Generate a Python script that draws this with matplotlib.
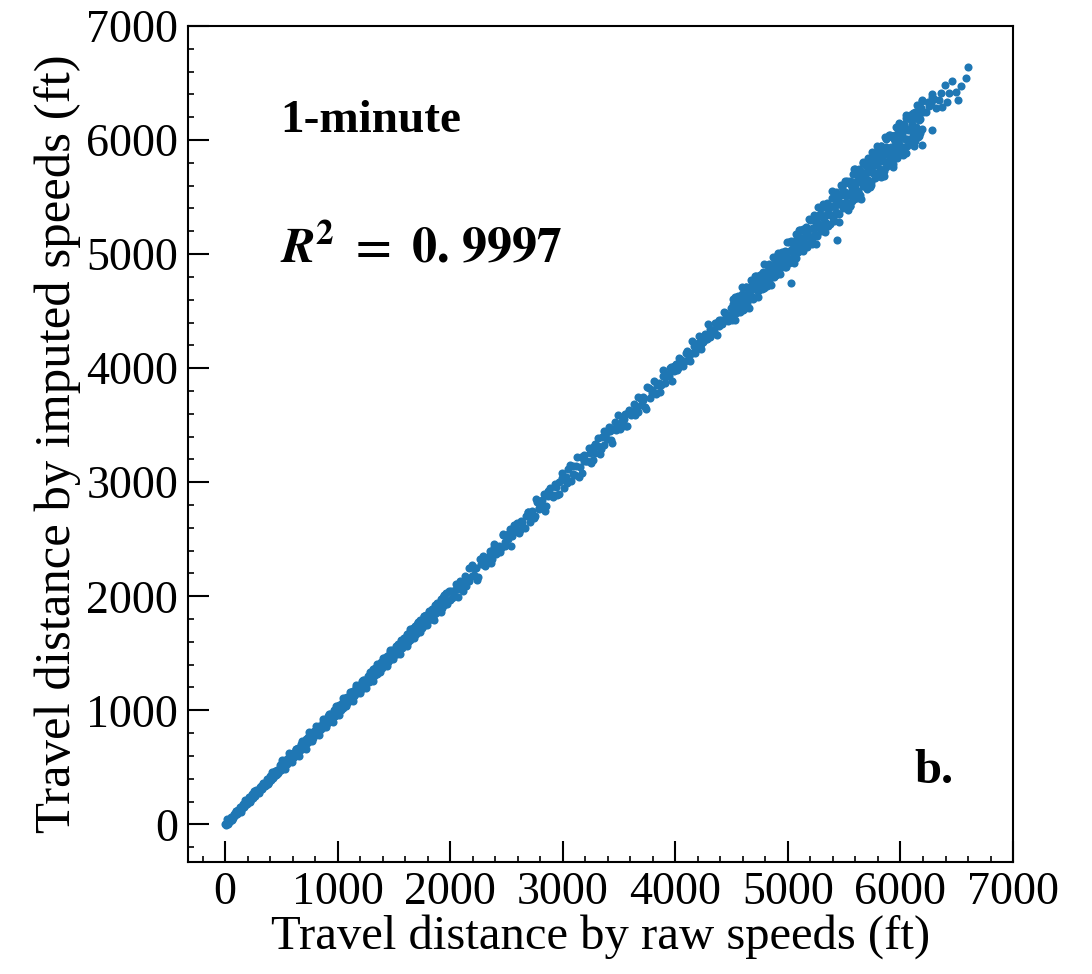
import matplotlib
matplotlib.use('Agg')
import matplotlib.pyplot as plt
from matplotlib.ticker import MultipleLocator
import numpy as np

plt.rcParams['font.family'] = ['Liberation Serif', 'DejaVu Serif']
plt.rcParams['mathtext.fontset'] = 'stix'

# ----- valores (ft) -----
# trecho inicial, faixa estreita
raw_low = [0, 8, 15, 22, 30, 38, 45, 52, 60, 68, 75, 82, 90, 100, 108, 115, 125, 135, 142, 150,
           160, 168, 178, 185, 195, 205, 212, 222, 230, 240, 250, 258, 265, 275, 285, 295, 305, 312, 322, 330,
           340, 350, 360, 368, 378, 388, 395, 405, 415, 425, 432, 442, 452, 460, 470, 480, 490, 498, 508, 518,
           526, 535, 545, 555, 562, 572, 580, 590, 600, 610, 620, 628, 638, 648, 656, 665, 675, 685, 695, 702,
           712, 722, 730, 740, 750, 760, 770, 778, 788, 798, 808, 818, 826, 836, 846, 855, 865, 875, 885, 895,
           905, 915, 925, 935, 945, 955, 965, 975, 985, 995, 1005, 1015, 1025, 1035, 1045, 1055, 1065, 1075, 1085, 1095,
           1105, 1115, 1125, 1135, 1145, 1155, 1165, 1175, 1185, 1195, 1205, 1215, 1225, 1235, 1245, 1255, 1265, 1275, 1285, 1295,
           1305, 1315, 1325, 1335, 1345, 1355, 1365, 1375, 1385, 1395, 1405, 1415, 1425, 1435, 1445, 1455, 1465, 1475, 1485, 1495,
           1505, 1515, 1525, 1535, 1545, 1555, 1565, 1575, 1585, 1595, 1605, 1615, 1625, 1635, 1645, 1655, 1665, 1675, 1685, 1695,
           1705, 1715, 1725, 1735, 1745, 1755, 1765, 1775, 1785, 1795, 1805, 1815, 1825, 1835, 1845, 1855, 1865, 1875, 1885, 1895,
           1905, 1915, 1925, 1935, 1945, 1955, 1965, 1975, 1985, 1995,
           20, 60, 100, 140, 180, 220, 260, 300, 340, 380, 420, 460, 500,
           505, 535, 565, 595, 625, 655, 685, 715, 745, 775, 805, 835, 865, 895, 925, 955, 985, 1015, 1045, 1075,
           1105, 1135, 1165, 1195, 1225, 1255, 1285, 1315, 1345, 1375, 1405, 1435, 1465, 1495, 1525, 1555, 1585, 1615, 1645, 1675,
           1705, 1735, 1765, 1795, 1825, 1855, 1885, 1915, 1945, 1975]
imp_low = [5, -6, 20, 4, 38, 22, 30, 62, 48, 55, 90, 70, 78, 118, 95, 130, 112, 150, 128, 140,
           182, 150, 170, 205, 180, 198, 236, 205, 220, 262, 235, 270, 248, 300, 272, 282, 330, 298, 340, 312,
           358, 332, 348, 395, 362, 370, 420, 388, 440, 405, 425, 470, 435, 478, 452, 465, 520, 478, 530, 500,
           512, 565, 528, 580, 548, 560, 612, 570, 625, 590, 605, 660, 615, 672, 640, 655, 708, 662, 720, 685,
           700, 752, 710, 768, 735, 742, 805, 758, 815, 780, 795, 850, 805, 862, 825, 840, 900, 850, 912, 872,
           890, 950, 900, 965, 925, 940, 1005, 950, 1015, 975, 990, 1050, 1000, 1068, 1022, 1040, 1110, 1050, 1118, 1072,
           1090, 1160, 1098, 1170, 1122, 1140, 1205, 1150, 1222, 1168, 1190, 1260, 1195, 1270, 1220, 1238, 1305, 1248, 1322, 1265,
           1290, 1360, 1300, 1372, 1318, 1340, 1410, 1350, 1425, 1372, 1395, 1462, 1400, 1478, 1420, 1442, 1515, 1448, 1530, 1468,
           1490, 1565, 1498, 1580, 1518, 1545, 1620, 1548, 1635, 1570, 1592, 1668, 1600, 1680, 1620, 1645, 1720, 1650, 1735, 1670,
           1690, 1772, 1700, 1790, 1718, 1745, 1830, 1748, 1838, 1770, 1795, 1875, 1800, 1888, 1820, 1848, 1925, 1850, 1940, 1872,
           1898, 1978, 1900, 1992, 1925, 1950, 2030, 1955, 2045, 1970,
           50, 35, 120, 110, 215, 200, 290, 275, 360, 350, 455, 440, 530,
           560, 485, 625, 550, 665, 595, 735, 660, 810, 735, 860, 785, 925, 850, 965, 895, 1035, 960, 1110, 1035,
           1160, 1085, 1225, 1150, 1265, 1195, 1335, 1260, 1410, 1335, 1460, 1385, 1525, 1450, 1565, 1495, 1635, 1560, 1710, 1635,
           1760, 1685, 1825, 1750, 1865, 1795, 1935, 1860, 2010, 1935]

# trecho do meio, mais espalhado
raw_mid = [2010, 2030, 2050, 2070, 2090, 2110, 2130, 2150, 2170, 2190, 2210, 2230, 2250, 2270, 2290, 2310, 2330, 2350, 2370, 2390,
           2410, 2430, 2450, 2470, 2490, 2510, 2530, 2550, 2570, 2590, 2610, 2630, 2650, 2670, 2690, 2710, 2730, 2750, 2770, 2790,
           2810, 2830, 2850, 2870, 2890, 2910, 2930, 2950, 2970, 2990, 3010, 3030, 3050, 3070, 3090, 3110, 3130, 3150, 3170, 3190,
           3210, 3230, 3250, 3270, 3290, 3310, 3330, 3350, 3370, 3390, 3410, 3430, 3450, 3470, 3490, 3510, 3530, 3550, 3570, 3590,
           3610, 3630, 3650, 3670, 3690, 3710, 3730, 3750, 3770, 3790, 3810, 3830, 3850, 3870, 3890, 3910, 3930, 3950, 3970, 3990,
           4010, 4030, 4050, 4070, 4090, 4110, 4130, 4150, 4170, 4190, 4210, 4230, 4250, 4270, 4290, 4310, 4330, 4350, 4370, 4390,
           4410, 4430, 4450, 4470, 4490,
           3905, 3925, 3945, 3965, 3985, 4005, 4025, 4045, 4065, 4085, 4105, 4125, 4145, 4165, 4185, 4205, 4225, 4245, 4265, 4285,
           4305, 4325, 4345, 4365, 4385, 4405, 4425, 4445, 4465, 4485,
           2015, 2040, 2065, 2090, 2115, 2140, 2165, 2190, 2215, 2240, 2265, 2290, 2315, 2340, 2365, 2390, 2415, 2440, 2465, 2490,
           2515, 2540, 2565, 2590, 2615, 2640, 2665, 2690, 2715, 2740, 2765, 2790, 2815, 2840, 2865, 2890, 2915, 2940, 2965, 2990,
           3015, 3040, 3065, 3090, 3115, 3140, 3165, 3190, 3215, 3240, 3265, 3290, 3315, 3340, 3365, 3390, 3415, 3440, 3465, 3490,
           3515, 3540, 3565, 3590, 3615, 3640, 3665, 3690, 3715, 3740, 3765, 3790, 3815, 3840, 3865, 3890]
imp_mid = [2050, 2000, 2110, 2060, 2085, 2050, 2175, 2140, 2130, 2270, 2185, 2250, 2170, 2280, 2350, 2265, 2335, 2395, 2330, 2460,
           2370, 2440, 2420, 2535, 2445, 2505, 2590, 2525, 2560, 2640, 2555, 2660, 2610, 2705, 2740, 2650, 2745, 2700, 2830, 2765,
           2800, 2900, 2790, 2880, 2950, 2870, 2985, 2890, 3000, 3085, 2950, 3050, 3120, 3010, 3140, 3060, 3225, 3130, 3080, 3240,
           3190, 3300, 3170, 3310, 3260, 3385, 3250, 3400, 3330, 3440, 3485, 3370, 3470, 3455, 3585, 3470, 3535, 3600, 3490, 3620,
           3585, 3690, 3645, 3615, 3730, 3720, 3660, 3835, 3735, 3805, 3885, 3770, 3870, 3855, 3985, 3870, 3935, 4000, 3890, 4020,
           3985, 4090, 4045, 4015, 4130, 4120, 4060, 4235, 4135, 4205, 4285, 4170, 4270, 4255, 4385, 4270, 4335, 4400, 4290, 4420,
           4385, 4490, 4445, 4415, 4530,
           3920, 3950, 3930, 4010, 3975, 4040, 4005, 4080, 4060, 4060, 4150, 4110, 4130, 4195, 4170, 4220, 4210, 4230, 4300, 4260,
           4340, 4310, 4330, 4400, 4370, 4420, 4410, 4480, 4450, 4470,
           1985, 2055, 1995, 2135, 2115, 2090, 2250, 2175, 2245, 2145, 2325, 2285, 2285, 2355, 2295, 2435, 2415, 2390, 2550, 2475,
           2545, 2445, 2625, 2585, 2585, 2655, 2595, 2735, 2715, 2690, 2850, 2775, 2845, 2745, 2925, 2885, 2885, 2955, 2895, 3035,
           3015, 2990, 3150, 3075, 3145, 3045, 3225, 3185, 3185, 3255, 3195, 3335, 3315, 3290, 3450, 3375, 3445, 3345, 3525, 3485,
           3485, 3555, 3495, 3635, 3615, 3590, 3750, 3675, 3745, 3645, 3825, 3785, 3785, 3855, 3795, 3935]

# trecho superior, faixa larga e densa
raw_high = [4500, 4510, 4520, 4530, 4540, 4550, 4560, 4570, 4580, 4590, 4600, 4610, 4620, 4630, 4640, 4650, 4660, 4670, 4680, 4690,
            4700, 4710, 4720, 4730, 4740, 4750, 4760, 4770, 4780, 4790, 4800, 4810, 4820, 4830, 4840, 4850, 4860, 4870, 4880, 4890,
            4900, 4910, 4920, 4930, 4940, 4950, 4960, 4970, 4980, 4990, 5000, 5010, 5020, 5030, 5040, 5050, 5060, 5070, 5080, 5090,
            5100, 5110, 5120, 5130, 5140, 5150, 5160, 5170, 5180, 5190, 5200, 5210, 5220, 5230, 5240, 5250, 5260, 5270, 5280, 5290,
            5300, 5310, 5320, 5330, 5340, 5350, 5360, 5370, 5380, 5390, 5400, 5410, 5420, 5430, 5440, 5450, 5460, 5470, 5480, 5490,
            5500, 5510, 5520, 5530, 5540, 5550, 5560, 5570, 5580, 5590, 5600, 5610, 5620, 5630, 5640, 5650, 5660, 5670, 5680, 5690,
            5700, 5710, 5720, 5730, 5740, 5750, 5760, 5770, 5780, 5790, 5800, 5810, 5820, 5830, 5840, 5850, 5860, 5870, 5880, 5890,
            5900, 5910, 5920, 5930, 5940, 5950, 5960, 5970, 5980, 5990, 6000, 6010, 6020, 6030, 6040, 6050, 6060, 6070, 6080, 6090,
            6100, 6110, 6120, 6130, 6140, 6150, 6160, 6170, 6180, 6190, 6200]
imp_high = [4420, 4560, 4505, 4620, 4485, 4565, 4630, 4530, 4580, 4650, 4510, 4640, 4590, 4710, 4575, 4660, 4710, 4620, 4705, 4610,
            4750, 4695, 4810, 4675, 4755, 4820, 4720, 4770, 4840, 4700, 4830, 4780, 4900, 4765, 4850, 4900, 4810, 4895, 4800, 4940,
            4885, 5000, 4865, 4945, 5010, 4910, 4960, 5030, 4890, 5020, 4965, 5110, 4940, 5040, 5105, 4990, 5090, 4970, 5140, 5070,
            5210, 5040, 5140, 5220, 5090, 5150, 5235, 5060, 5220, 5155, 5300, 5130, 5230, 5295, 5180, 5280, 5160, 5330, 5260, 5400,
            5230, 5330, 5410, 5280, 5340, 5425, 5250, 5410, 5345, 5490, 5320, 5420, 5485, 5370, 5470, 5350, 5520, 5450, 5590, 5420,
            5520, 5620, 5460, 5530, 5630, 5420, 5610, 5530, 5700, 5495, 5610, 5690, 5550, 5665, 5520, 5720, 5635, 5800, 5595, 5715,
            5810, 5650, 5720, 5820, 5610, 5800, 5720, 5890, 5685, 5800, 5905, 5720, 5865, 5675, 5930, 5820, 6030, 5760, 5910, 6030,
            5820, 5910, 6035, 5760, 6005, 5900, 6115, 5845, 5995, 6095, 5910, 6055, 5865, 6120, 6010, 6220, 5950, 6100, 6220, 6010,
            6100, 6225, 5950, 6195, 6090, 6305, 6035, 6185, 6285, 6100, 6245]

# pontos extras para preencher a faixa larga
raw_fill = [4505, 4525, 4545, 4565, 4585, 4605, 4625, 4645, 4665, 4685, 4705, 4725, 4745, 4765, 4785, 4805, 4825, 4845, 4865, 4885,
            4905, 4925, 4945, 4965, 4985, 5005, 5025, 5045, 5065, 5085, 5105, 5125, 5145, 5165, 5185, 5205, 5225, 5245, 5265, 5285,
            5305, 5325, 5345, 5365, 5385, 5405, 5425, 5445, 5465, 5485,
            5505, 5515, 5525, 5535, 5545, 5555, 5565, 5575, 5585, 5595, 5605, 5615, 5625, 5635, 5645, 5655, 5665, 5675, 5685, 5695,
            5705, 5715, 5725, 5735, 5745, 5755, 5765, 5775, 5785, 5795, 5805, 5815, 5825, 5835, 5845, 5855, 5865, 5875, 5885, 5895,
            5905, 5915, 5925, 5935, 5945, 5955, 5965, 5975, 5985, 5995, 6005, 6015, 6025, 6035, 6045, 6055, 6065, 6075, 6085, 6095,
            6105, 6115, 6125, 6135, 6145, 6155, 6165, 6175, 6185, 6195,
            4510, 4530, 4550, 4570, 4590, 4610, 4630, 4650, 4670, 4690, 4710, 4730, 4750, 4770, 4790, 4810, 4830, 4850, 4870, 4890,
            4910, 4930, 4950, 4970, 4990, 5010, 5030, 5050, 5070, 5090, 5110, 5130, 5150, 5170, 5190, 5210, 5230, 5250, 5270, 5290,
            5310, 5330, 5350, 5370, 5390, 5410, 5430, 5450, 5470, 5490, 5510, 5530, 5550, 5570, 5590, 5610, 5630, 5650, 5670, 5690,
            5710, 5730, 5750, 5770, 5790, 5810, 5830, 5850, 5870, 5890, 5910, 5930, 5950, 5970, 5990, 6010, 6030, 6050, 6070, 6090,
            6110, 6130, 6150, 6170, 6190]
imp_fill = [4525, 4485, 4600, 4555, 4620, 4545, 4630, 4690, 4640, 4755, 4725, 4685, 4800, 4755, 4820, 4745, 4830, 4890, 4840, 4955,
            4925, 4885, 5000, 4955, 5020, 4945, 5030, 5090, 5040, 5155, 5125, 5085, 5200, 5155, 5220, 5145, 5230, 5290, 5240, 5355,
            5325, 5285, 5400, 5355, 5420, 5345, 5430, 5490, 5440, 5555,
            5545, 5445, 5645, 5515, 5625, 5425, 5575, 5635, 5485, 5745, 5560, 5635, 5545, 5735, 5635, 5695, 5595, 5795, 5665, 5775,
            5575, 5725, 5785, 5635, 5895, 5710, 5785, 5695, 5885, 5785, 5845, 5745, 5945, 5815, 5925, 5725, 5875, 5935, 5785, 6045,
            5860, 5935, 5845, 6035, 5935, 5995, 5895, 6095, 5965, 6075, 5875, 6025, 6085, 5935, 6195, 6010, 6085, 5995, 6185, 6085,
            6145, 6045, 6245, 6115, 6225, 6025, 6175, 6235, 6085, 6345,
            4610, 4425, 4620, 4490, 4710, 4520, 4715, 4525, 4775, 4620, 4810, 4625, 4820, 4690, 4910, 4720, 4915, 4725, 4975, 4820,
            5010, 4825, 5020, 4890, 5110, 4920, 5115, 4925, 5175, 5020, 5210, 5025, 5220, 5090, 5310, 5090, 5345, 5085, 5410, 5200,
            5440, 5190, 5445, 5265, 5550, 5290, 5545, 5285, 5610, 5400, 5640, 5390, 5645, 5465, 5750, 5490, 5745, 5485, 5810, 5600,
            5840, 5590, 5845, 5665, 5950, 5690, 5945, 5685, 6010, 5800, 6040, 5790, 6045, 5865, 6150, 5890, 6145, 5885, 6210, 6000,
            6240, 5990, 6245, 6065, 6350]

# ponta superior e pontos isolados
raw_tail = [6229, 6273, 6318, 6371, 6415, 6282, 6362, 6433, 6495, 6398, 6460, 6513, 6540, 6584, 6601, 6282, 6250, 6300, 6340, 6240,
            5030, 5440, 6282, 6193]
imp_tail = [6246, 6325, 6280, 6289, 6333, 6404, 6412, 6412, 6421, 6482, 6518, 6351, 6474, 6544, 6640, 6377, 6300, 6360, 6350, 6330,
            4745, 5120, 6088, 5956]

raw = np.array(raw_low + raw_mid + raw_high + raw_fill + raw_tail)
imp = np.array(imp_low + imp_mid + imp_high + imp_fill + imp_tail)

fig = plt.figure(figsize=(10.92, 9.74), dpi=100)
ax = fig.add_axes([0.1722, 0.115, 0.7555, 0.8583])

ax.scatter(raw, imp, s=34, color='#1f77b4', linewidths=0, zorder=2)

ax.set_xlim(-330, 7000)
ax.set_ylim(-330, 7000)
ax.xaxis.set_major_locator(MultipleLocator(1000))
ax.yaxis.set_major_locator(MultipleLocator(1000))
ax.xaxis.set_minor_locator(MultipleLocator(200))
ax.yaxis.set_minor_locator(MultipleLocator(200))
ax.tick_params(which='major', direction='in', length=15, width=1.5, labelsize=33, pad=7,
               top=False, right=False)
ax.tick_params(which='minor', direction='in', length=4.5, width=1.2, top=False, right=False)
for sp in ax.spines.values():
    sp.set_linewidth(1.5)

ax.set_xlabel('Travel distance by raw speeds (ft)', fontsize=35, labelpad=0)
ax.set_ylabel('Travel distance by imputed speeds (ft)', fontsize=36.5, labelpad=4)

ax.text(488, 6070, '1-minute', fontsize=34, fontweight='bold', va='baseline')
ax.text(488, 4930, r'$\mathbfit{R}^{\mathbf{2}}\ \mathbf{=}\ \mathbf{0.\,9997}$', fontsize=36, va='baseline')
ax.text(6122, 360, 'b.', fontsize=35, fontweight='bold', va='baseline')

fig.savefig('out.png', dpi=100)
